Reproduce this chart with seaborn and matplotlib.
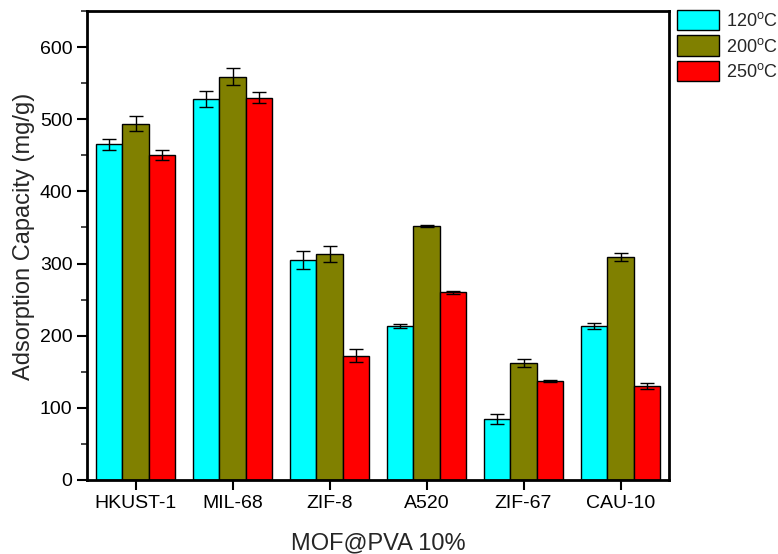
import numpy as np
import pandas as pd
import matplotlib
matplotlib.use("Agg")
import matplotlib.pyplot as plt
import seaborn as sns
from matplotlib.ticker import MultipleLocator
from matplotlib.patches import Patch

categories = ["HKUST-1", "MIL-68", "ZIF-8", "A520", "ZIF-67", "CAU-10"]
series = ["120$^{\\mathrm{o}}$C", "200$^{\\mathrm{o}}$C", "250$^{\\mathrm{o}}$C"]
vals_120 = [465, 528, 305, 213, 84, 213]
vals_200 = [494, 559, 313, 352, 162, 309]
vals_250 = [450, 530, 172, 260, 137, 130]
err_120 = [8, 11, 13, 3, 7, 4]
err_200 = [10, 12, 11, 2, 6, 5]
err_250 = [7, 8, 9, 2, 1, 4]
colors = ["#00FFFF", "#808000", "#FF0000"]

sns.set_theme(style="ticks")
plt.rcParams["font.family"] = ["Liberation Sans", "DejaVu Sans"]
plt.rcParams["mathtext.fontset"] = "custom"
plt.rcParams["mathtext.rm"] = "Liberation Sans"
plt.rcParams["mathtext.it"] = "Liberation Sans"

rows = []
for s, v, e in zip(series, [vals_120, vals_200, vals_250], [err_120, err_200, err_250]):
    for c, vv, ee in zip(categories, v, e):
        rows.append({"cat": c, "series": s, "val": vv, "err": ee})
df = pd.DataFrame(rows)

fig = plt.figure(figsize=(7.78, 5.54), dpi=100)
ax = fig.add_axes([87/778, 1-480/554, (669-87)/778, (480-11)/554])

sns.barplot(data=df, x="cat", y="val", hue="series", order=categories,
            hue_order=series, palette=colors, errorbar=None, width=0.82,
            edgecolor="black", linewidth=1.0, saturation=1, ax=ax, legend=False)

for container, s in zip(ax.containers, series):
    sub = df[df["series"] == s].set_index("cat").loc[categories]
    xs = [p.get_x() + p.get_width()/2 for p in container.patches]
    ax.errorbar(xs, sub["val"].values, yerr=sub["err"].values, fmt="none",
                ecolor="black", elinewidth=1.0, capsize=4.7, capthick=1.0, zorder=5)

ax.set_xlim(-0.5, 5.5)
ax.set_ylim(0, 650)
ax.yaxis.set_major_locator(MultipleLocator(100))
ax.yaxis.set_minor_locator(MultipleLocator(50))
ax.tick_params(axis="both", which="major", direction="out", length=7, width=1.5,
               labelsize=14, colors="black")
ax.tick_params(axis="y", which="minor", direction="out", length=4, width=1.2)
ax.tick_params(axis="x", which="minor", bottom=False)
for sp in ax.spines.values():
    sp.set_visible(True)
    sp.set_linewidth(2)
    sp.set_color("black")

ax.set_xlabel("MOF@PVA 10%", fontsize=17, labelpad=15)
ax.set_ylabel("Adsorption Capacity (mg/g)", fontsize=17, labelpad=5)
ax.yaxis.set_label_coords(-0.089, 0.52)

handles = [Patch(facecolor=c, edgecolor="black", linewidth=1.0) for c in colors]
fig.legend(handles, series, loc="upper left", bbox_to_anchor=(677/778, 1-10/554),
           frameon=False, fontsize=13, handlelength=2.3, handleheight=1.33,
           handletextpad=0.4, labelspacing=0.3, borderpad=0.0, borderaxespad=0)

fig.savefig("out.png", dpi=100)
